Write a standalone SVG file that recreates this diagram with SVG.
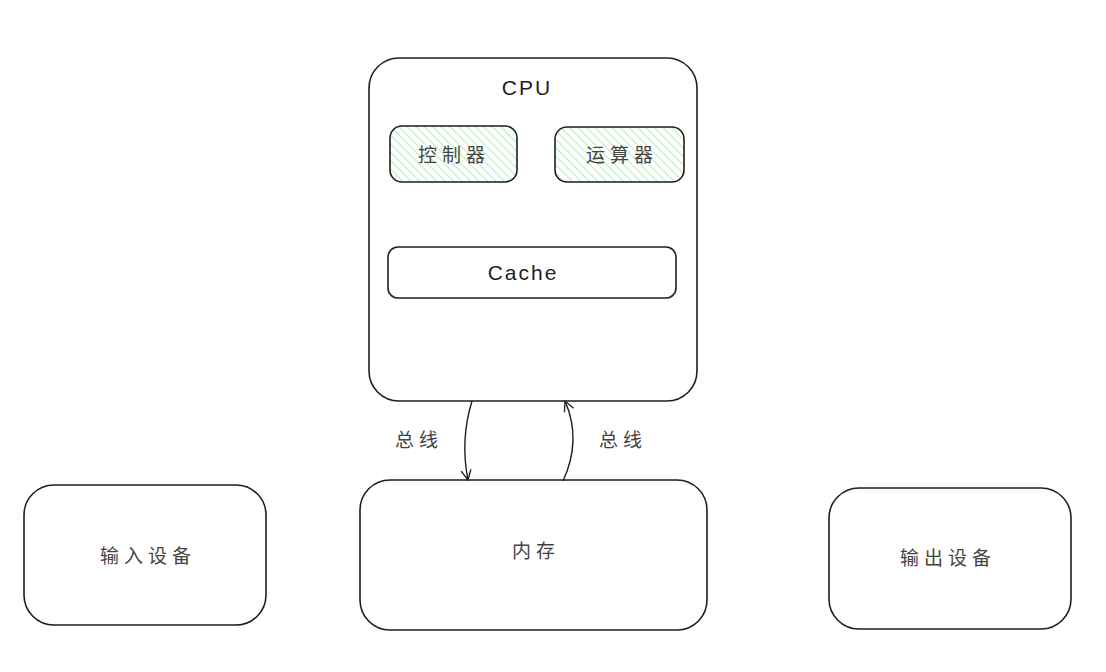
<svg xmlns="http://www.w3.org/2000/svg" width="1106" height="672" viewBox="0 0 1106 672">
<defs>
<pattern id="hatch" patternUnits="userSpaceOnUse" width="6" height="6" patternTransform="rotate(-45)">
<line x1="0" y1="0" x2="0" y2="6" stroke="#a8ecb3" stroke-width="1.8"/>
</pattern>
<marker id="arr" viewBox="0 0 12 12" refX="11" refY="6" markerWidth="12" markerHeight="12" markerUnits="userSpaceOnUse" orient="auto">
<path d="M1,1 L11,6 L1,11" fill="none" stroke="#1e1e1e" stroke-width="1.3"/>
</marker>
<style>
.box{fill:#fff;stroke:#1e1e1e;stroke-width:1.6}
.hbox{fill:url(#hatch);stroke:#1e1e1e;stroke-width:1.6}
.t{font-family:"Liberation Sans","Noto Sans CJK SC",sans-serif;text-anchor:middle;dominant-baseline:central;fill:#1e1e1e}
.cn{font-size:19px;fill:#444;letter-spacing:5px}
.en{font-size:21px;letter-spacing:2px}
.conn{fill:none;stroke:#1e1e1e;stroke-width:1.4}
</style>
</defs>
<rect width="1106" height="672" fill="#fff"/>
<g id="cpu">
<rect class="box" x="369" y="58" width="328" height="343" rx="30"/>
<text class="t en" x="527" y="87">CPU</text>
</g>
<g id="controller">
<rect class="hbox" x="390" y="126" width="127" height="56" rx="12"/>
<text class="t cn" x="454" y="155">控制器</text>
</g>
<g id="alu">
<rect class="hbox" x="555" y="127" width="129" height="55" rx="12"/>
<text class="t cn" x="622" y="155">运算器</text>
</g>
<g id="cache">
<rect class="box" x="388" y="247" width="288" height="51" rx="10"/>
<text class="t en" x="523" y="272">Cache</text>
</g>
<g id="memory">
<rect class="box" x="360" y="480" width="347" height="150" rx="30"/>
<text class="t cn" x="536" y="551">内存</text>
</g>
<g id="input">
<rect class="box" x="24" y="485" width="242" height="140" rx="30"/>
<text class="t cn" x="148" y="556">输入设备</text>
</g>
<g id="output">
<rect class="box" x="829" y="488" width="242" height="141" rx="30"/>
<text class="t cn" x="948" y="558">输出设备</text>
</g>
<g id="connectors">
<path class="conn" d="M472,401 Q460,440 468,480" marker-end="url(#arr)"/>
<path class="conn" d="M563,481 Q582,440 565,401" marker-end="url(#arr)"/>
<text class="t cn" x="419" y="440">总线</text>
<text class="t cn" x="623" y="440">总线</text>
</g>
</svg>
